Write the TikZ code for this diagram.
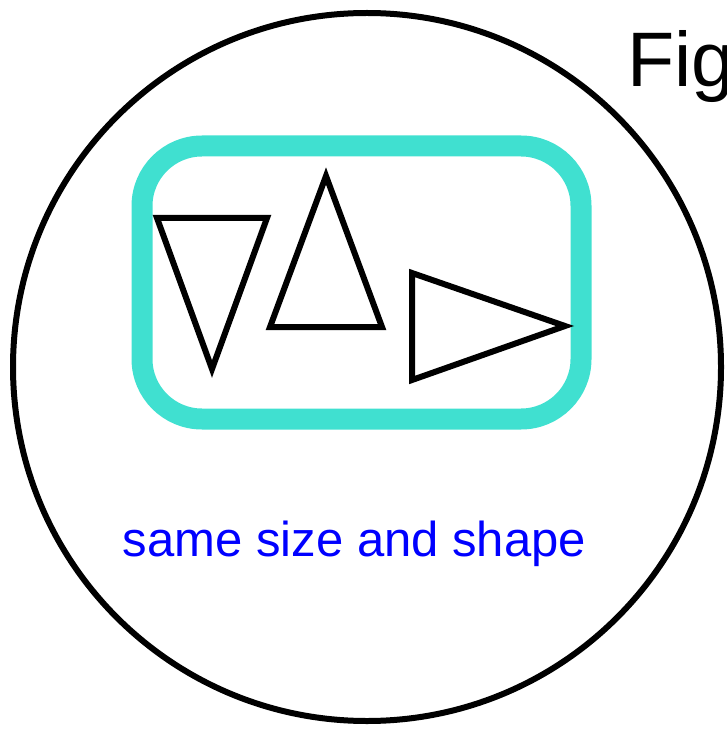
\documentclass[tikz,border=0pt]{standalone}
\usepackage{fontspec}
\setmainfont{Liberation Sans}
\usetikzlibrary{positioning}
\definecolor{frameturq}{HTML}{40E0D0}

\begin{document}
\begin{tikzpicture}[
  x=0.02cm, y=-0.02cm,
  rim/.style={draw, line width=0.12cm},
  tri/.style={draw, line width=0.12cm, line join=miter},
  frame/.style={draw=frameturq, line width=0.42cm, rounded corners=1.2cm},
  lab/.style={text=blue, font=\fontsize{27.9}{33}\selectfont, inner sep=0pt},
  ttl/.style={font=\fontsize{44}{52}\selectfont, inner sep=0pt}
]
  \useasboundingbox (0,0) rectangle (726,729);

  % outer circle and title
  \draw[rim] (367,367) circle[radius=354];
  \node[ttl, anchor=base west] (title) at (627,87) {Fig};

  % turquoise frame round the triangles
  \draw[frame] (142,146) rectangle (581,419);

  % the three triangles
  \draw[tri] (157,218) -- (267,218) -- (212,369) -- cycle;
  \draw[tri] (326,176) -- (382,327) -- (270,327) -- cycle;
  \draw[tri] (412,273) -- (565,326) -- (412,380) -- cycle;

  \node[lab, anchor=base] (note) at (354.5,556) {same size and shape};
\end{tikzpicture}
\end{document}
